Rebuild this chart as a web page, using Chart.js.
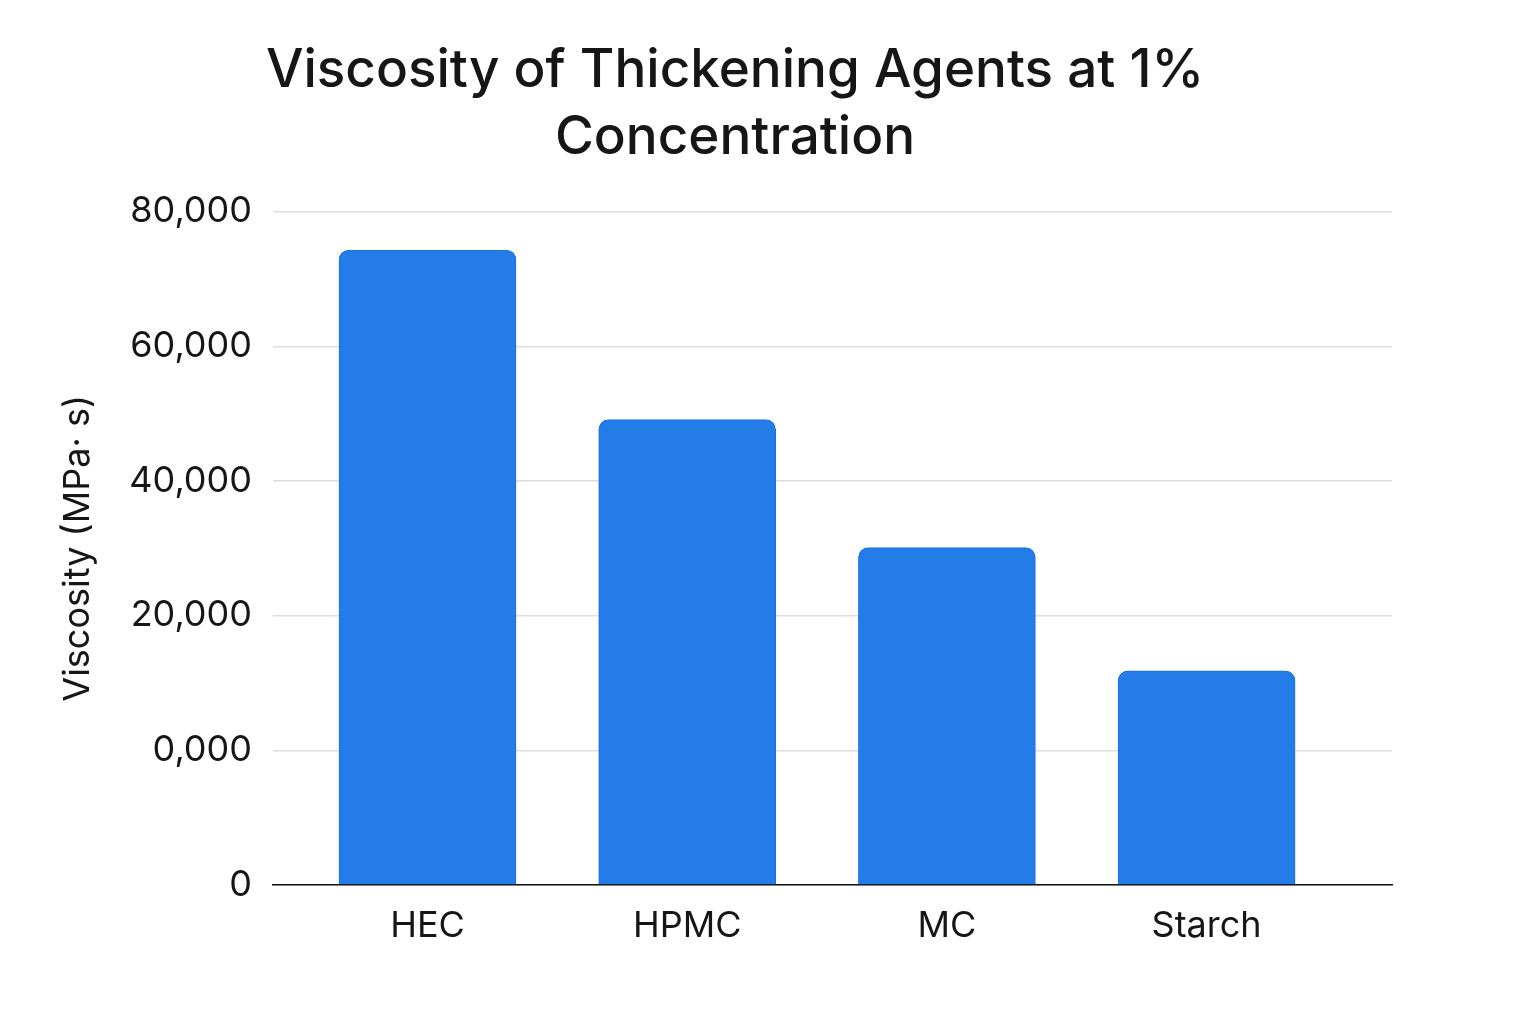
<!DOCTYPE html>
<html>
<head>
<meta charset="utf-8">
<script src="https://cdn.jsdelivr.net/npm/chart.js@4.4.1/dist/chart.umd.min.js"></script>
<style>
  html, body { margin: 0; padding: 0; background: #fff; }
  #wrap { width: 1536px; height: 1024px; }
</style>
</head>
<body>
<div id="wrap"><canvas id="visc_chart"></canvas></div>
<script>
// values
const categories = ["HEC", "HPMC", "MC", "Starch"];
const viscosity = [74300, 49100, 30100, 11800];
// the reference axis is labelled oddly; keep its labels as drawn (bottom to top)
const yTickValues = [-20000, 0, 20000, 40000, 60000, 80000];
const yTickLabels = ["0", "0,000", "20,000", "40,000", "60,000", "80,000"];

const barPoints = categories.map((c, i) => ({ x: i, y: viscosity[i] }));

let ctx = document.getElementById("visc_chart");
let chart = new Chart(ctx, {
  type: 'bar',
  data: {
    datasets: [{
      label: "Viscosity",
      data: barPoints,
      base: yTickValues[0],
      backgroundColor: "#247ce9",
      borderColor: "#1b6fe4",
      borderWidth: 1,
      borderSkipped: 'start',
      borderRadius: 10,
      barThickness: 177
    }]
  },
  options: {
    responsive: true,
    maintainAspectRatio: false,
    animation: false,
    layout: {
      padding: { left: 78, right: 144, top: 0, bottom: 0 }
    },
    plugins: {
      legend: { display: false },
      tooltip: { enabled: false },
      title: {
        display: true,
        text: ["Viscosity of Thickening Agents at 1%", "Concentration"],
        color: "#161616",
        font: { family: "Inter", size: 53, weight: '500', lineHeight: 1.27 },
        padding: { top: 37, bottom: 40 }
      }
    },
    scales: {
      x: {
        type: 'linear',
        offset: false,
        min: -0.595,
        max: 3.714,
        afterFit: (scale) => { scale.height = 139; },
        grid: { display: false, drawTicks: false },
        border: { display: true, color: "#111", width: 1.5 },
        ticks: {
          stepSize: 1,
          includeBounds: false,
          autoSkip: false,
          maxRotation: 0,
          padding: 20,
          color: "#161616",
          font: { family: "Inter", size: 36 },
          callback: (v) => Number.isInteger(v) && categories[v] !== undefined ? categories[v] : ''
        }
      },
      y: {
        min: yTickValues[0],
        max: yTickValues[yTickValues.length - 1],
        afterFit: (scale) => { scale.width = 195; },
        afterBuildTicks: (scale) => { scale.ticks = yTickValues.map(v => ({ value: v })); },
        grid: { color: "#dedede", lineWidth: 1.5, drawTicks: false },
        border: { display: false },
        ticks: {
          padding: 21,
          color: "#161616",
          font: { family: "Inter", size: 36 },
          callback: (v) => yTickLabels[yTickValues.indexOf(v)]
        },
        title: {
          display: true,
          text: "Viscosity (MPa· s)",
          color: "#161616",
          font: { family: "Inter", size: 36 },
          padding: { top: -21, bottom: 0 }
        }
      }
    }
  }
});
</script>
</body>
</html>
